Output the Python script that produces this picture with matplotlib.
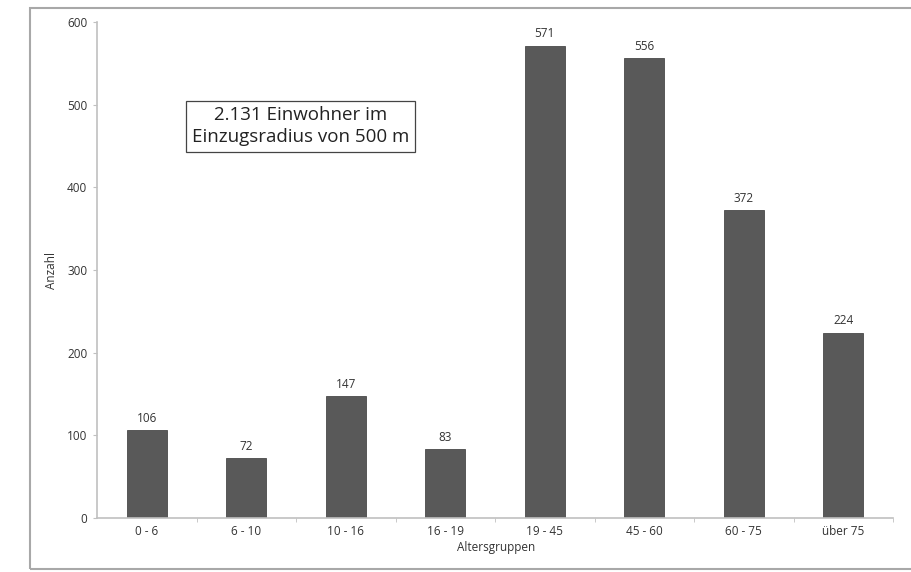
import matplotlib.pyplot as plt
from matplotlib.patches import Rectangle

groups = ["0 - 6", "6 - 10", "10 - 16", "16 - 19", "19 - 45", "45 - 60", "60 - 75", "über 75"]
counts = [106, 72, 147, 83, 571, 556, 372, 224]
yticks = [0, 100, 200, 300, 400, 500, 600]

plt.rcParams['font.family'] = ['Open Sans', 'DejaVu Sans']
W, H = 912, 572
fig = plt.figure(figsize=(W / 100, H / 100), dpi=100)

# outer frame of the original chart image
fig.add_artist(Rectangle((30 / W, 3 / H), 1.2, (H - 11) / H, transform=fig.transFigure,
                         fill=False, edgecolor='#a8a8a8', linewidth=1.5))

ax = fig.add_axes([97 / W, 1 - 518 / H, (893 - 97) / W, (518 - 22) / H])
x = list(range(len(groups)))
ax.bar(x, counts, width=0.4, color='#595959', edgecolor='#4a4a4a', linewidth=0.6)
for xi, v in zip(x, counts):
    ax.text(xi, v + 7, str(v), ha='center', va='bottom', fontsize=8.5, color='#333333')

ax.set_xlim(-0.5, len(groups) - 0.5)
ax.set_ylim(0, 600)
ax.set_yticks(yticks)
ax.set_xticks(x)
ax.set_xticklabels(groups)
ax.set_xticks([i + 0.5 for i in range(len(groups))], minor=True)
ax.tick_params(axis='x', which='major', length=0, pad=5, labelsize=8.5, labelcolor='#333333')
ax.tick_params(axis='x', which='minor', length=3, color='#c0c0c0')
ax.tick_params(axis='y', length=3, color='#c0c0c0', pad=4, labelsize=8.5, labelcolor='#333333')
for s in ['top', 'right']:
    ax.spines[s].set_visible(False)
for s in ['left', 'bottom']:
    ax.spines[s].set_color('#c0c0c0')
    ax.spines[s].set_linewidth(1.2)

fig.text(496 / W, 1 - 548 / H, "Altersgruppen", ha='center', va='center', fontsize=8.5, color='#333333')
fig.text(52 / W, 1 - 270 / H, "Anzahl", ha='center', va='center', rotation=90, fontsize=8.5, color='#333333')

ax.text(0.256, 0.79, "2.131 Einwohner im\nEinzugsradius von 500 m", transform=ax.transAxes,
        ha='center', va='center', fontsize=13.5, color='#222222', linespacing=1.25,
        bbox=dict(boxstyle='square,pad=0.3', facecolor='white', edgecolor='#444444', linewidth=0.9))

fig.savefig("out.png", dpi=100)
